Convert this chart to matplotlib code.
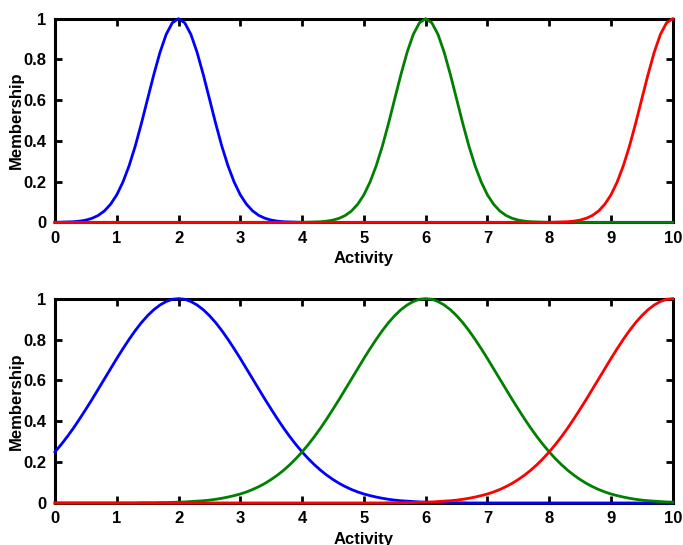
import numpy as np
import matplotlib.pyplot as plt

# sample points along the Activity axis (0 to 10, step 0.1)
activity = np.linspace(0, 10, 101)

# membership, from the peak outwards (step 0.1)
narrow_half = [1.000, 0.980, 0.923, 0.835, 0.726, 0.607, 0.487, 0.375, 0.278, 0.198,
               0.135, 0.089, 0.056, 0.034, 0.020, 0.011, 0.006, 0.003, 0.002, 0.001,
               0.000]
wide_half = [1.000, 0.997, 0.986, 0.969, 0.946, 0.917, 0.883, 0.844, 0.801, 0.755,
             0.707, 0.657, 0.607, 0.557, 0.507, 0.459, 0.412, 0.367, 0.325, 0.286,
             0.250, 0.217, 0.187, 0.160, 0.136, 0.115, 0.096, 0.080, 0.066, 0.054,
             0.044, 0.036, 0.029, 0.023, 0.018, 0.014, 0.011, 0.009, 0.007, 0.005,
             0.004, 0.003, 0.002, 0.002, 0.001, 0.001, 0.001, 0.000]

centres = [2, 6, 10]
colors = ['#0000ff', '#008000', '#ff0000']
x_ticks = list(range(0, 11))
y_ticks = [0, 0.2, 0.4, 0.6, 0.8, 1]
y_ticklabels = ['0', '0.2', '0.4', '0.6', '0.8', '1']


def curve(centre, half):
    vals = []
    for x in activity:
        i = int(round(abs(x - centre) * 10))
        vals.append(half[i] if i < len(half) else 0.0)
    return vals


plt.rcParams['font.family'] = ['Liberation Sans', 'DejaVu Sans']
plt.rcParams['font.weight'] = 'bold'

fig = plt.figure(figsize=(6.83, 5.45), dpi=100)
ax1 = fig.add_axes([0.0805, 0.592, 0.9045, 0.3737])
ax2 = fig.add_axes([0.0805, 0.0771, 0.9045, 0.3749])

for ax, half in [(ax1, narrow_half), (ax2, wide_half)]:
    for c, col in zip(centres, colors):
        ax.plot(activity, curve(c, half), color=col, lw=2, clip_on=False, zorder=3)
    ax.set_xlim(0, 10)
    ax.set_ylim(0, 1)
    ax.set_xticks(x_ticks)
    ax.set_yticks(y_ticks)
    ax.set_yticklabels(y_ticklabels)
    ax.tick_params(direction='in', length=5, width=2, top=True, right=True,
                   labelsize=12, pad=6)
    for s in ax.spines.values():
        s.set_linewidth(2.2)
    ax.set_xlabel('Activity', fontsize=12, fontweight='bold', labelpad=4)
    ax.set_ylabel('Membership', fontsize=12, fontweight='bold', labelpad=0)

fig.savefig('out.png', dpi=100)
